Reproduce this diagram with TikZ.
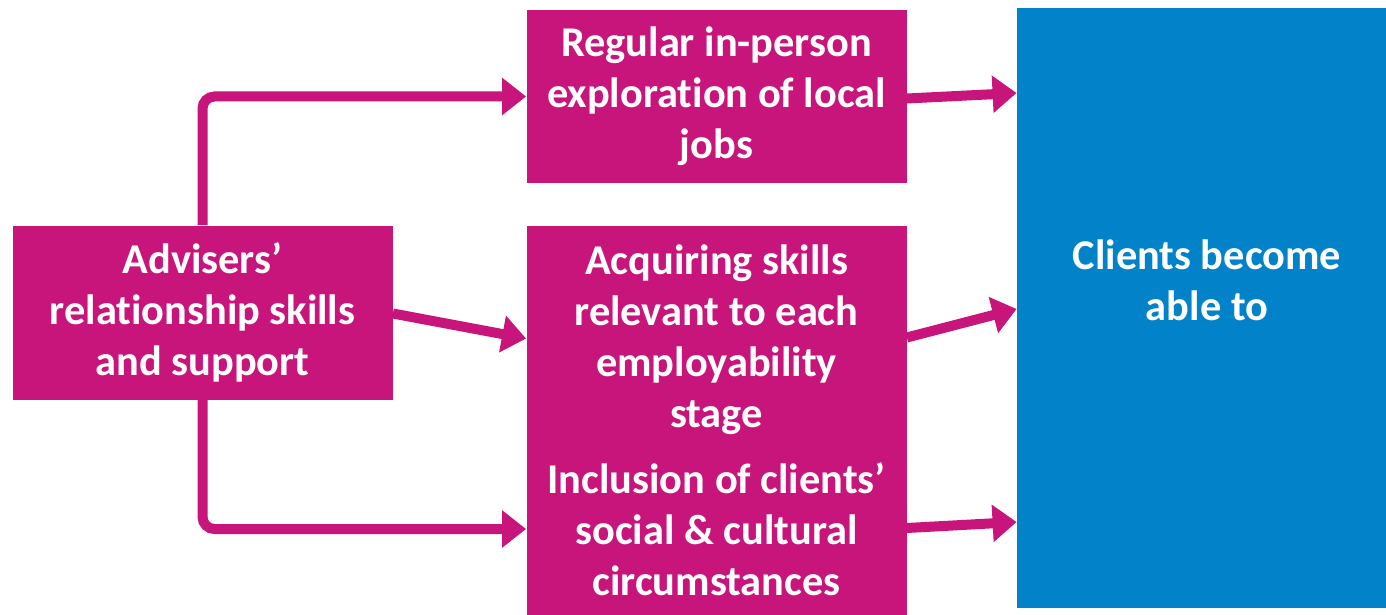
\documentclass[tikz,border=0pt]{standalone}
\usepackage{fontspec}
\setmainfont{Carlito}[RawFeature={-liga;-clig;-calt;-dlig}]
\usepackage{xcolor}
\usepackage{tikz}
\usetikzlibrary{arrows.meta,calc}
\definecolor{plum}{RGB}{200,21,123}
\definecolor{sea}{RGB}{2,131,201}

\begin{document}
\begin{tikzpicture}[x=0.5pt, y=-0.5pt,
    box/.style = {fill=plum, text=white, align=center, inner sep=0pt, minimum width=190pt, font=\bfseries\fontsize{21.2}{25.5}\selectfont},
    goal/.style = {fill=sea, inner sep=0pt, minimum width=184.5pt, minimum height=300pt},
    goaltext/.style = {text=white, align=center, font=\bfseries\fontsize{21.2}{25.5}\selectfont},
    link/.style = {draw=plum, line width=5pt, -{Triangle[length=12pt, width=18pt]}}]
            \useasboundingbox (0, 0) rectangle (1386, 615);
            \node (advisers) at (202.5, 312.5) [box, minimum height=87pt] {Advisers'\\relationship skills\\and support};
            \node (regular) at (716.5, 96.5) [box, minimum height=86.5pt] {Regular in-person\\exploration of local\\jobs};
            \node (acquiring) at (716.5, 339.5) [box, minimum height=113.5pt] {Acquiring skills\\relevant to each\\employability\\stage};
            \node (inclusion) at (716.5, 529) [box, minimum height=86pt] {Inclusion of clients'\\social \& cultural\\circumstances};
            \node (clients) at (1201.5, 308) [goal] {};
            \node (clientstext) at (1207, 280) [goaltext] {Clients become\\able to};
            \draw [link, rounded corners=6pt] (advisers.north) |- (regular.west);
            \draw [link] ($(advisers.east)+(0, 1)$) -- ($(acquiring.west)+(0, -1)$);
            \draw [link, rounded corners=6pt] (advisers.south) |- (inclusion.west);
            \draw [link] ($(regular.east)+(0, 2)$) -- ($(clients.west)+(0, -215)$);
            \draw [link] ($(acquiring.east)+(0, -2)$) -- ($(clients.west)+(0, 1)$);
            \draw [link] ($(inclusion.east)+(0, -1)$) -- ($(clients.west)+(0, 214)$);
        \end{tikzpicture}
\end{document}
